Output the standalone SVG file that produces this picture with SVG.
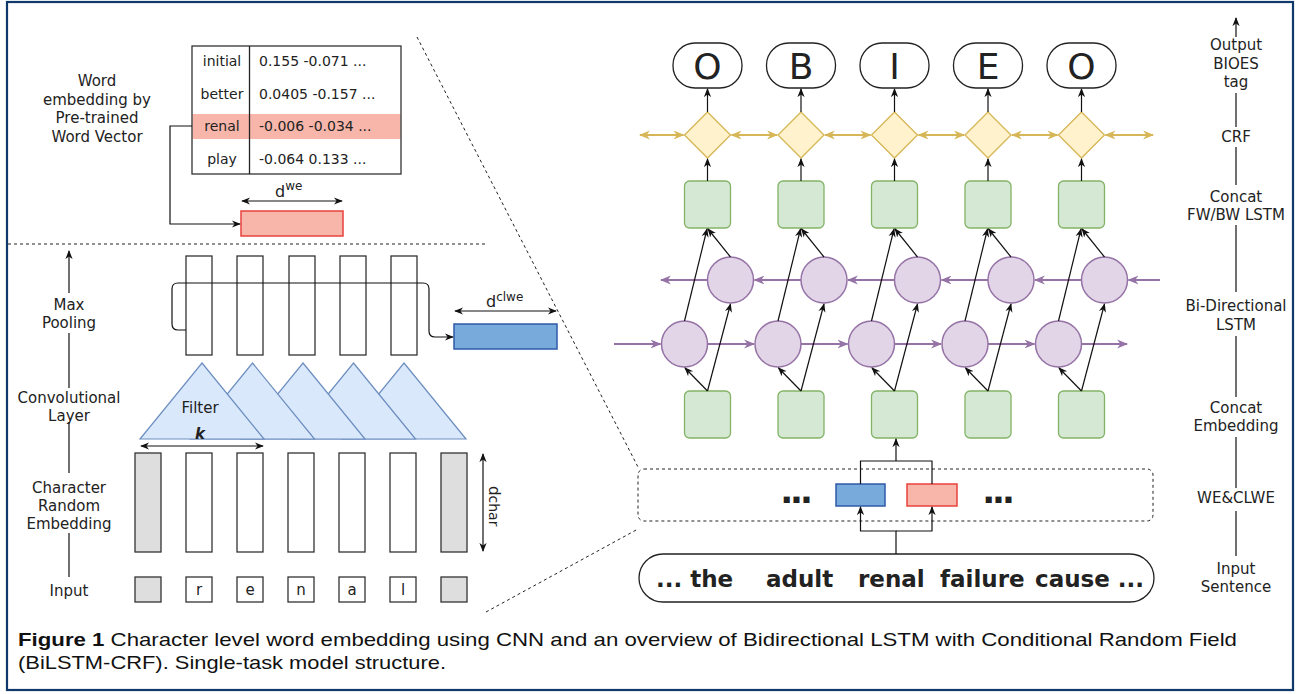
<svg xmlns="http://www.w3.org/2000/svg" width="1299" height="694" viewBox="0 0 1299 694">
<defs>
<style>
.t{font-family:"DejaVu Sans",Verdana,sans-serif;fill:#222;font-size:15px}
.tc{text-anchor:middle}
.tb{font-size:14px}
.ln{fill:none;stroke:#111;stroke-width:1.2}
.pl{fill:none;stroke:#9673a6;stroke-width:2}
.yl{fill:none;stroke:#d6b656;stroke-width:2.2}
.dash{fill:none;stroke:#222;stroke-width:1;stroke-dasharray:3,3}
.bar{fill:#fff;stroke:#333;stroke-width:1.3}
.gray{fill:#dedede;stroke:#333;stroke-width:1.3}
.tri{fill:#dae8fc;stroke:#6c8ebf;stroke-width:1.2}
.grn{fill:#d5e8d4;stroke:#82b366;stroke-width:1.3}
.cir{fill:#e1d5e7;stroke:#9673a6;stroke-width:1.5}
.dia{fill:#fff2cc;stroke:#d6b656;stroke-width:1.3}
.ov{fill:#fff;stroke:#222;stroke-width:1.3}
.red{fill:#f8b6aa;stroke:#e8413c;stroke-width:1.5}
.blu{fill:#78aadc;stroke:#2f5aa8;stroke-width:1.5}
</style>
<marker id="ab" viewBox="0 0 10 10" refX="9" refY="5" markerWidth="9" markerHeight="9" markerUnits="userSpaceOnUse" orient="auto-start-reverse"><path d="M0,1 L10,5 L0,9 L3,5 z" fill="#111"/></marker>
<marker id="ap" viewBox="0 0 10 10" refX="9" refY="5" markerWidth="11" markerHeight="11" markerUnits="userSpaceOnUse" orient="auto-start-reverse"><path d="M0,1 L10,5 L0,9 L3,5 z" fill="#9673a6"/></marker>
<marker id="ay" viewBox="0 0 10 10" refX="9" refY="5" markerWidth="11" markerHeight="11" markerUnits="userSpaceOnUse" orient="auto-start-reverse"><path d="M0,1 L10,5 L0,9 L3,5 z" fill="#d6b656"/></marker>
</defs>
<rect x="0" y="0" width="1299" height="694" fill="#fff"/>
<rect x="7" y="2" width="1286" height="688" fill="none" stroke="#10396b" stroke-width="2.2"/>

<!-- Word embedding table -->
<g id="we-label">
<text class="t tc" x="97" y="86">Word</text>
<text class="t tc" x="97" y="104.5">embedding by</text>
<text class="t tc" x="97" y="123">Pre-trained</text>
<text class="t tc" x="97" y="141.5">Word Vector</text>
</g>
<g id="we-table">
<rect x="192" y="46" width="209" height="128" fill="#fff"/>
<rect x="192.5" y="114" width="208" height="25" fill="#f8b6aa"/>
<rect x="192" y="46" width="209" height="128" fill="none" stroke="#333" stroke-width="1.3"/>
<line x1="249.5" y1="46" x2="249.5" y2="174" stroke="#222" stroke-width="1.3"/>
<text class="t tb tc" x="222" y="66">initial</text>
<text class="t tb tc" x="222" y="99">better</text>
<text class="t tb tc" x="222" y="131">renal</text>
<text class="t tb tc" x="222" y="164">play</text>
<text class="t tb" x="259" y="66">0.155 -0.071 ...</text>
<text class="t tb" x="259" y="99">0.0405 -0.157 ...</text>
<text class="t tb" x="259" y="131">-0.006 -0.034 ...</text>
<text class="t tb" x="259" y="164">-0.064 0.133 ...</text>
</g>
<g id="we-vector">
<rect class="red" x="241" y="211" width="102" height="25"/>
<text class="t" x="275" y="197" style="font-size:16px">d<tspan dy="-7" style="font-size:12px">we</tspan></text>
</g>

<!-- separators -->
<g id="separators">
<line class="dash" x1="8" y1="244" x2="487" y2="244"/>
<line class="dash" x1="417" y1="37" x2="638" y2="467"/>
<line class="dash" x1="486" y1="612" x2="638" y2="529"/>
</g>

<!-- Left axis labels -->
<g id="left-axis">
<text class="t tc" x="69" y="310">Max</text>
<text class="t tc" x="69" y="328">Pooling</text>
<text class="t tc" x="69" y="403">Convolutional</text>
<text class="t tc" x="69" y="421">Layer</text>
<text class="t tc" x="69" y="493">Character</text>
<text class="t tc" x="69" y="511">Random</text>
<text class="t tc" x="69" y="529">Embedding</text>
<text class="t tc" x="69" y="596">Input</text>
</g>

<!-- Max pooling columns -->
<g id="maxpool">
<rect class="bar" x="186" y="256" width="26" height="99"/>
<rect class="bar" x="237" y="256" width="26" height="99"/>
<rect class="bar" x="289" y="256" width="26" height="99"/>
<rect class="bar" x="340" y="256" width="26" height="99"/>
<rect class="bar" x="391" y="256" width="26" height="99"/>
</g>
<g id="clwe-vector">
<rect class="blu" x="454" y="324" width="103" height="25"/>
<text class="t" x="486" y="307" style="font-size:16px">d<tspan dy="-6" style="font-size:12px">clwe</tspan></text>
</g>

<!-- Filters -->
<g id="filters">
<path class="tri" d="M404,363 L466,439 L342,439 Z"/>
<path class="tri" d="M353.5,363 L415.5,439 L291.5,439 Z"/>
<path class="tri" d="M303,363 L365,439 L241,439 Z"/>
<path class="tri" d="M252.5,363 L314.5,439 L190.5,439 Z"/>
<path class="tri" d="M202,363 L264,439 L140,439 Z"/>
<text class="t tc" x="200" y="413">Filter</text>
<text class="t tc" x="200" y="439" font-weight="bold" font-style="italic">k</text>
</g>

<!-- Character embedding -->
<g id="char-embedding">
<rect class="gray" x="135" y="453" width="26" height="99"/>
<rect class="bar" x="186" y="453" width="26" height="99"/>
<rect class="bar" x="237" y="453" width="26" height="99"/>
<rect class="bar" x="288" y="453" width="26" height="99"/>
<rect class="bar" x="339" y="453" width="26" height="99"/>
<rect class="bar" x="390" y="453" width="26" height="99"/>
<rect class="gray" x="441" y="453" width="26" height="99"/>
<text class="t" transform="translate(489,486) rotate(90)" x="0" y="0" style="font-size:15px">d<tspan style="font-size:14px">char</tspan></text>
</g>

<!-- Input characters -->
<g id="char-input">
<rect class="gray" x="135" y="577" width="26" height="25"/>
<rect class="bar" x="186" y="577" width="26" height="25"/>
<rect class="bar" x="237" y="577" width="26" height="25"/>
<rect class="bar" x="288" y="577" width="26" height="25"/>
<rect class="bar" x="339" y="577" width="26" height="25"/>
<rect class="bar" x="390" y="577" width="26" height="25"/>
<rect class="gray" x="441" y="577" width="26" height="25"/>
<text class="t tc" x="199" y="595">r</text>
<text class="t tc" x="250" y="595">e</text>
<text class="t tc" x="301" y="595">n</text>
<text class="t tc" x="352" y="595">a</text>
<text class="t tc" x="403" y="595">l</text>
</g>

<!-- Right: outputs -->
<g id="outputs">
<rect class="ov" x="673" y="43" width="69" height="45" rx="22"/>
<rect class="ov" x="766.5" y="43" width="69" height="45" rx="22"/>
<rect class="ov" x="860" y="43" width="69" height="45" rx="22"/>
<rect class="ov" x="953.5" y="43" width="69" height="45" rx="22"/>
<rect class="ov" x="1047" y="43" width="69" height="45" rx="22"/>
<text class="t tc" x="707.5" y="79" style="font-size:36px">O</text>
<text class="t tc" x="801" y="79" style="font-size:36px">B</text>
<text class="t tc" x="894.5" y="79" style="font-size:36px">I</text>
<text class="t tc" x="988" y="79" style="font-size:36px">E</text>
<text class="t tc" x="1081.5" y="79" style="font-size:36px">O</text>
</g>
<g id="crf">
<path class="dia" d="M707.5,112 L730.5,135 L707.5,158 L684.5,135 Z"/>
<path class="dia" d="M801,112 L824,135 L801,158 L778,135 Z"/>
<path class="dia" d="M894.5,112 L917.5,135 L894.5,158 L871.5,135 Z"/>
<path class="dia" d="M988,112 L1011,135 L988,158 L965,135 Z"/>
<path class="dia" d="M1081.5,112 L1104.5,135 L1081.5,158 L1058.5,135 Z"/>
</g>
<g id="concat-lstm">
<rect class="grn" x="684.5" y="181" width="46" height="47" rx="5"/>
<rect class="grn" x="778" y="181" width="46" height="47" rx="5"/>
<rect class="grn" x="871.5" y="181" width="46" height="47" rx="5"/>
<rect class="grn" x="965" y="181" width="46" height="47" rx="5"/>
<rect class="grn" x="1058.5" y="181" width="46" height="47" rx="5"/>
</g>
<g id="bw-lstm">
<circle class="cir" cx="730.5" cy="280" r="23"/>
<circle class="cir" cx="824" cy="280" r="23"/>
<circle class="cir" cx="917.5" cy="280" r="23"/>
<circle class="cir" cx="1011" cy="280" r="23"/>
<circle class="cir" cx="1104.5" cy="280" r="23"/>
</g>
<g id="fw-lstm">
<circle class="cir" cx="684.5" cy="344" r="23"/>
<circle class="cir" cx="778" cy="344" r="23"/>
<circle class="cir" cx="871.5" cy="344" r="23"/>
<circle class="cir" cx="965" cy="344" r="23"/>
<circle class="cir" cx="1058.5" cy="344" r="23"/>
</g>
<g id="concat-embedding">
<rect class="grn" x="684.5" y="391" width="46" height="47" rx="5"/>
<rect class="grn" x="778" y="391" width="46" height="47" rx="5"/>
<rect class="grn" x="871.5" y="391" width="46" height="47" rx="5"/>
<rect class="grn" x="965" y="391" width="46" height="47" rx="5"/>
<rect class="grn" x="1058.5" y="391" width="46" height="47" rx="5"/>
</g>
<g id="we-clwe">
<rect x="638" y="469" width="515" height="52" rx="6" class="dash"/>
<text class="t tc" x="795" y="503" style="font-size:34px;font-weight:bold;letter-spacing:-3px">...</text>
<rect class="blu" x="836" y="484" width="49" height="22"/>
<rect class="red" x="907" y="484" width="50" height="22"/>
<text class="t tc" x="997" y="503" style="font-size:34px;font-weight:bold;letter-spacing:-3px">...</text>
</g>
<g id="sentence">
<rect class="ov" x="639" y="554" width="515" height="48" rx="24"/>
<text class="t" y="587" style="font-size:23px;font-weight:bold"><tspan x="656">... the</tspan><tspan x="766">adult</tspan><tspan x="858">renal</tspan><tspan x="940">failure</tspan><tspan x="1035">cause ...</tspan></text>
</g>

<!-- Right axis labels -->
<g id="right-axis">
<text class="t tc" x="1236" y="50">Output</text>
<text class="t tc" x="1236" y="69">BIOES</text>
<text class="t tc" x="1236" y="87">tag</text>
<text class="t tc" x="1236" y="142">CRF</text>
<text class="t tc" x="1236" y="202">Concat</text>
<text class="t tc" x="1236" y="220">FW/BW LSTM</text>
<text class="t tc" x="1236" y="311">Bi-Directional</text>
<text class="t tc" x="1236" y="330">LSTM</text>
<text class="t tc" x="1236" y="413">Concat</text>
<text class="t tc" x="1236" y="431">Embedding</text>
<text class="t tc" x="1236" y="503">WE&amp;CLWE</text>
<text class="t tc" x="1236" y="574">Input</text>
<text class="t tc" x="1236" y="592">Sentence</text>
</g>

<!-- Connectors -->
<g id="connectors">
<path class="ln" d="M192,126 H170 V224 H240" marker-end="url(#ab)"/>
<path class="ln" d="M242,201 H342" marker-start="url(#ab)" marker-end="url(#ab)"/>
<path class="ln" d="M186,330 H178 Q172,330 172,324 V289 Q172,283 178,283 H423 Q429,283 429,289 V331 Q429,337 435,337 H453" marker-end="url(#ab)"/>
<path class="ln" d="M455,311 H556" marker-start="url(#ab)" marker-end="url(#ab)"/>
<path class="ln" d="M141,446 H263" marker-start="url(#ab)" marker-end="url(#ab)"/>
<path class="ln" d="M483,454 V551" marker-start="url(#ab)" marker-end="url(#ab)"/>
<path class="ln" d="M69,293 V251" marker-end="url(#ab)"/>
<path class="ln" d="M69,333 V388 M69,422 V473 M69,533 V577"/>
<path class="ln" d="M1236,37 V18" marker-end="url(#ab)"/>
<path class="ln" d="M1236,93 V127 M1236,147 V185 M1236,225 V292 M1236,336 V397 M1236,437 V488 M1236,511 V556"/>
<!-- CRF to outputs -->
<path class="ln" d="M707.5,112 V89" marker-end="url(#ab)"/>
<path class="ln" d="M801,112 V89" marker-end="url(#ab)"/>
<path class="ln" d="M894.5,112 V89" marker-end="url(#ab)"/>
<path class="ln" d="M988,112 V89" marker-end="url(#ab)"/>
<path class="ln" d="M1081.5,112 V89" marker-end="url(#ab)"/>
<!-- concat to CRF -->
<path class="ln" d="M707.5,181 V159" marker-end="url(#ab)"/>
<path class="ln" d="M801,181 V159" marker-end="url(#ab)"/>
<path class="ln" d="M894.5,181 V159" marker-end="url(#ab)"/>
<path class="ln" d="M988,181 V159" marker-end="url(#ab)"/>
<path class="ln" d="M1081.5,181 V159" marker-end="url(#ab)"/>
<!-- CRF transitions -->
<path class="yl" d="M640,135 H683.5" marker-start="url(#ay)" marker-end="url(#ay)"/>
<path class="yl" d="M731.5,135 H777" marker-start="url(#ay)" marker-end="url(#ay)"/>
<path class="yl" d="M825,135 H870.5" marker-start="url(#ay)" marker-end="url(#ay)"/>
<path class="yl" d="M918.5,135 H964" marker-start="url(#ay)" marker-end="url(#ay)"/>
<path class="yl" d="M1012,135 H1057.5" marker-start="url(#ay)" marker-end="url(#ay)"/>
<path class="yl" d="M1105.5,135 H1153" marker-start="url(#ay)" marker-end="url(#ay)"/>
<!-- backward LSTM chain -->
<path class="pl" d="M1160,280 H1128.5" marker-end="url(#ap)"/>
<path class="pl" d="M1081.5,280 H1035" marker-end="url(#ap)"/>
<path class="pl" d="M988,280 H941.5" marker-end="url(#ap)"/>
<path class="pl" d="M894.5,280 H848" marker-end="url(#ap)"/>
<path class="pl" d="M801,280 H754.5" marker-end="url(#ap)"/>
<path class="pl" d="M707.5,280 H661" marker-end="url(#ap)"/>
<!-- forward LSTM chain -->
<path class="pl" d="M614,344 H660.5" marker-end="url(#ap)"/>
<path class="pl" d="M707.5,344 H754" marker-end="url(#ap)"/>
<path class="pl" d="M801,344 H847.5" marker-end="url(#ap)"/>
<path class="pl" d="M894.5,344 H941" marker-end="url(#ap)"/>
<path class="pl" d="M988,344 H1034.5" marker-end="url(#ap)"/>
<path class="pl" d="M1081.5,344 H1127" marker-end="url(#ap)"/>
<!-- embedding to LSTM, LSTM to concat -->
<path class="ln" d="M707.5,391 L685,368" marker-end="url(#ab)"/>
<path class="ln" d="M707.5,391 L730.5,304" marker-end="url(#ab)"/>
<path class="ln" d="M684.5,321 L707,229" marker-end="url(#ab)"/>
<path class="ln" d="M730.5,257 L708,229" marker-end="url(#ab)"/>
<path class="ln" d="M801,391 L778.5,368" marker-end="url(#ab)"/>
<path class="ln" d="M801,391 L824,304" marker-end="url(#ab)"/>
<path class="ln" d="M778,321 L800.5,229" marker-end="url(#ab)"/>
<path class="ln" d="M824,257 L801.5,229" marker-end="url(#ab)"/>
<path class="ln" d="M894.5,391 L872,368" marker-end="url(#ab)"/>
<path class="ln" d="M894.5,391 L917.5,304" marker-end="url(#ab)"/>
<path class="ln" d="M871.5,321 L894,229" marker-end="url(#ab)"/>
<path class="ln" d="M917.5,257 L895,229" marker-end="url(#ab)"/>
<path class="ln" d="M988,391 L965.5,368" marker-end="url(#ab)"/>
<path class="ln" d="M988,391 L1011,304" marker-end="url(#ab)"/>
<path class="ln" d="M965,321 L987.5,229" marker-end="url(#ab)"/>
<path class="ln" d="M1011,257 L988.5,229" marker-end="url(#ab)"/>
<path class="ln" d="M1081.5,391 L1059,368" marker-end="url(#ab)"/>
<path class="ln" d="M1081.5,391 L1104.5,304" marker-end="url(#ab)"/>
<path class="ln" d="M1058.5,321 L1081,229" marker-end="url(#ab)"/>
<path class="ln" d="M1104.5,257 L1082,229" marker-end="url(#ab)"/>
<!-- WE&CLWE junctions -->
<path class="ln" d="M860.5,484 V461 H932 V484"/>
<path class="ln" d="M896,461 V439" marker-end="url(#ab)"/>
<path class="ln" d="M896,554 V531 H860.5 V507" marker-end="url(#ab)"/>
<path class="ln" d="M896,531 H932 V507" marker-end="url(#ab)"/>
</g>

<!-- Caption -->
<g id="caption">
<text x="18" y="646" style="font-family:'Liberation Sans',Arial,sans-serif;font-size:19px;fill:#111" textLength="1219" lengthAdjust="spacingAndGlyphs"><tspan font-weight="bold">Figure 1</tspan> Character level word embedding using CNN and an overview of Bidirectional LSTM with Conditional Random Field</text>
<text x="18" y="669" style="font-family:'Liberation Sans',Arial,sans-serif;font-size:19px;fill:#111" textLength="428" lengthAdjust="spacingAndGlyphs">(BiLSTM-CRF). Single-task model structure.</text>
</g>
</svg>
